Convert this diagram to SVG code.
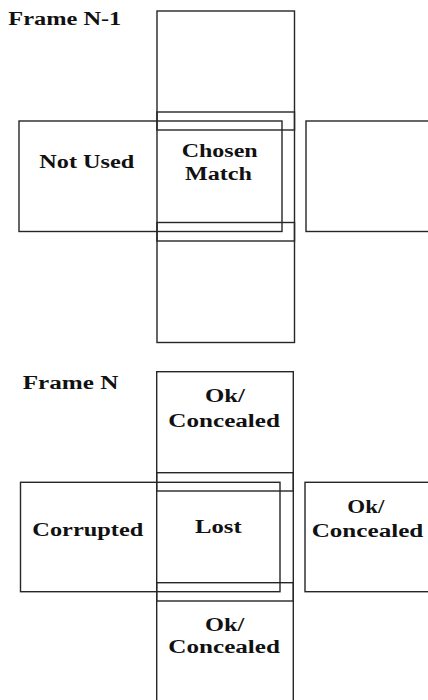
<svg xmlns="http://www.w3.org/2000/svg" width="428" height="700" viewBox="0 0 428 700">
<style>
.b{fill:none;stroke:#262626;stroke-width:1.4}
.t{font-family:"Liberation Serif","Times New Roman",serif;font-weight:bold;font-size:18px;fill:#111}
</style>
<rect width="428" height="700" fill="#ffffff"/>
<g id="frame-n-1">
  <text class="t" x="8.3" y="25" textLength="113" lengthAdjust="spacingAndGlyphs">Frame N-1</text>
  <g id="n1-top"><rect class="b" x="157" y="11" width="137.5" height="119"/></g>
  <g id="n1-center"><rect class="b" x="157" y="112" width="137.5" height="129"/>
    <text class="t" x="181.7" y="156.7" textLength="76" lengthAdjust="spacingAndGlyphs">Chosen</text>
    <text class="t" x="185" y="180" textLength="67" lengthAdjust="spacingAndGlyphs">Match</text>
  </g>
  <g id="n1-bottom"><rect class="b" x="157" y="222.5" width="137.5" height="120"/></g>
  <g id="n1-left"><rect class="b" x="19" y="121" width="263" height="110.5"/>
    <text class="t" x="39.3" y="168.3" textLength="95" lengthAdjust="spacingAndGlyphs">Not Used</text>
  </g>
  <g id="n1-right"><rect class="b" x="306" y="121" width="140" height="110.5"/></g>
</g>
<g id="frame-n">
  <text class="t" x="22.7" y="389.3" textLength="95.7" lengthAdjust="spacingAndGlyphs">Frame N</text>
  <g id="n-top"><rect class="b" x="156.7" y="371.7" width="136.6" height="119.3"/>
    <text class="t" x="205" y="402.3" textLength="40" lengthAdjust="spacingAndGlyphs">Ok/</text>
    <text class="t" x="168.3" y="426.7" textLength="111.7" lengthAdjust="spacingAndGlyphs">Concealed</text>
  </g>
  <g id="n-center"><rect class="b" x="156.7" y="472.7" width="136.6" height="128.3"/>
    <text class="t" x="195" y="533.3" textLength="46.7" lengthAdjust="spacingAndGlyphs">Lost</text>
  </g>
  <g id="n-bottom"><rect class="b" x="156.7" y="582.7" width="136.6" height="130"/>
    <text class="t" x="205" y="630.7" textLength="39.3" lengthAdjust="spacingAndGlyphs">Ok/</text>
    <text class="t" x="168.3" y="653.3" textLength="111.7" lengthAdjust="spacingAndGlyphs">Concealed</text>
  </g>
  <g id="n-left"><rect class="b" x="20.5" y="482.3" width="259.5" height="109.4"/>
    <text class="t" x="32.3" y="535.5" textLength="111" lengthAdjust="spacingAndGlyphs">Corrupted</text>
  </g>
  <g id="n-right"><rect class="b" x="305" y="482.3" width="140" height="109.4"/>
    <text class="t" x="347.3" y="513.3" textLength="37" lengthAdjust="spacingAndGlyphs">Ok/</text>
    <text class="t" x="311.7" y="536.7" textLength="111.6" lengthAdjust="spacingAndGlyphs">Concealed</text>
  </g>
</g>
<g id="connectors"></g>
</svg>
